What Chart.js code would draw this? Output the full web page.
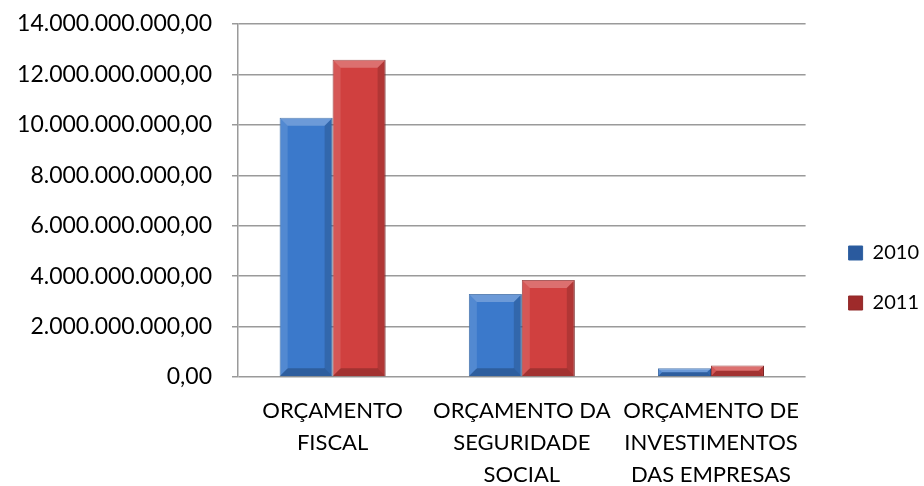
<!DOCTYPE html>
<html>
<head>
<meta charset="utf-8">
<script src="https://cdn.jsdelivr.net/npm/chart.js@4/dist/chart.umd.min.js"></script>
<style>
html,body{margin:0;padding:0;background:#fff;}
#wrap{width:924px;height:486px;}
</style>
</head>
<body>
<div id="wrap"><canvas id="c" width="924" height="486"></canvas></div>
<script>
const categories = [["ORÇAMENTO","FISCAL"],["ORÇAMENTO DA","SEGURIDADE","SOCIAL"],["ORÇAMENTO DE","INVESTIMENTOS","DAS EMPRESAS"]];
const seriesNames = ["2010","2011"];
const values2010 = [10280000000, 3290000000, 350000000];
const values2011 = [12580000000, 3850000000, 460000000];
const yTicks = [0,2000000000,4000000000,6000000000,8000000000,10000000000,12000000000,14000000000];

function fmtBR(v){
  const s = Math.round(v).toString().replace(/\B(?=(\d{3})+(?!\d))/g,".");
  return s + ",00";
}

const FONT = "Lato, 'Open Sans', sans-serif";

function barGrad(ctx, light, mid, dark){
  const chart = ctx.chart;
  const area = chart.chartArea;
  if(!area) return mid;
  const el = ctx.element;
  if(!el || el.x === undefined || !el.width) return mid;
  const g = chart.ctx.createLinearGradient(el.x - el.width/2, 0, el.x + el.width/2, 0);
  g.addColorStop(0, light);
  g.addColorStop(0.15, mid);
  g.addColorStop(0.85, mid);
  g.addColorStop(1, dark);
  return g;
}

const bevel = {
  id:'bevel',
  afterLayout(chart){
    const lg = chart.legend;
    if(lg){ lg.left += 13; lg.right += 13; lg.top += 23; lg.bottom += 23; }
  },
  afterDatasetsDraw(chart){
    const c = chart.ctx;
    chart.data.datasets.forEach((ds,i)=>{
      const meta = chart.getDatasetMeta(i);
      meta.data.forEach(b=>{
        const l = b.x - b.width/2, r = b.x + b.width/2, t = b.y, bt = b.base;
        const h = bt - t;
        const d = Math.min(8, h/2, b.width/4);
        c.save();
        c.fillStyle = 'rgba(255,255,255,0.25)';
        c.beginPath(); c.moveTo(l,t); c.lineTo(r,t); c.lineTo(r-d,t+d); c.lineTo(l+d,t+d); c.closePath(); c.fill();
        c.fillStyle = 'rgba(0,0,0,0.22)';
        c.beginPath(); c.moveTo(l,bt); c.lineTo(r,bt); c.lineTo(r-d,bt-d); c.lineTo(l+d,bt-d); c.closePath(); c.fill();
        c.fillStyle = 'rgba(0,0,0,0.15)';
        c.beginPath(); c.moveTo(r,t); c.lineTo(r,bt); c.lineTo(r-d,bt-d); c.lineTo(r-d,t+d); c.closePath(); c.fill();
        c.fillStyle = 'rgba(255,255,255,0.12)';
        c.beginPath(); c.moveTo(l,t); c.lineTo(l,bt); c.lineTo(l+d,bt-d); c.lineTo(l+d,t+d); c.closePath(); c.fill();
        c.restore();
      });
    });
  }
};

new Chart(document.getElementById('c'), {
  type:'bar',
  data:{
    labels: categories,
    datasets:[
      {label:seriesNames[0], data:values2010,
       backgroundColor:(ctx)=>barGrad(ctx,'#5a95e0','#3b79cb','#2a5a9e'),
       borderColor:'#2d5f9f', borderWidth:1},
      {label:seriesNames[1], data:values2011,
       backgroundColor:(ctx)=>barGrad(ctx,'#e86a6a','#d0403f','#9e2a2a'),
       borderColor:'#8f2828', borderWidth:1}
    ]
  },
  plugins:[bevel],
  options:{
    responsive:false,
    animation:false,
    devicePixelRatio:1,
    layout:{padding:{left:0, top:24, right:8, bottom:0}},
    datasets:{bar:{categoryPercentage:0.56, barPercentage:1.0}},
    scales:{
      x:{
        grid:{display:false, drawTicks:false},
        border:{display:false},
        afterFit(axis){ axis.height = 109; axis.paddingLeft = 0; axis.paddingRight = 0; },
        ticks:{color:'#000', font:{family:FONT, size:22, lineHeight:32/22}, maxRotation:0, autoSkip:false, padding:18}
      },
      y:{
        min:0, max:14000000000,
        afterBuildTicks(axis){ axis.ticks = yTicks.map(v=>({value:v})); },
        afterFit(axis){ axis.width = 238; axis.paddingTop = 0; axis.paddingBottom = 0; },
        grid:{color:'#9a9a9a', lineWidth:1.5, tickLength:6, tickColor:'#9a9a9a'},
        border:{display:true, color:'#9a9a9a', width:1.5},
        ticks:{color:'#000', font:{family:FONT, size:23}, padding:20, callback:(v)=>fmtBR(v)}
      }
    },
    plugins:{
      legend:{
        position:'right', align:'center',
        labels:{color:'#000', font:{family:FONT, size:20}, boxWidth:14, boxHeight:14, padding:30}
      },
      tooltip:{enabled:false}
    }
  }
});
</script>
</body>
</html>
